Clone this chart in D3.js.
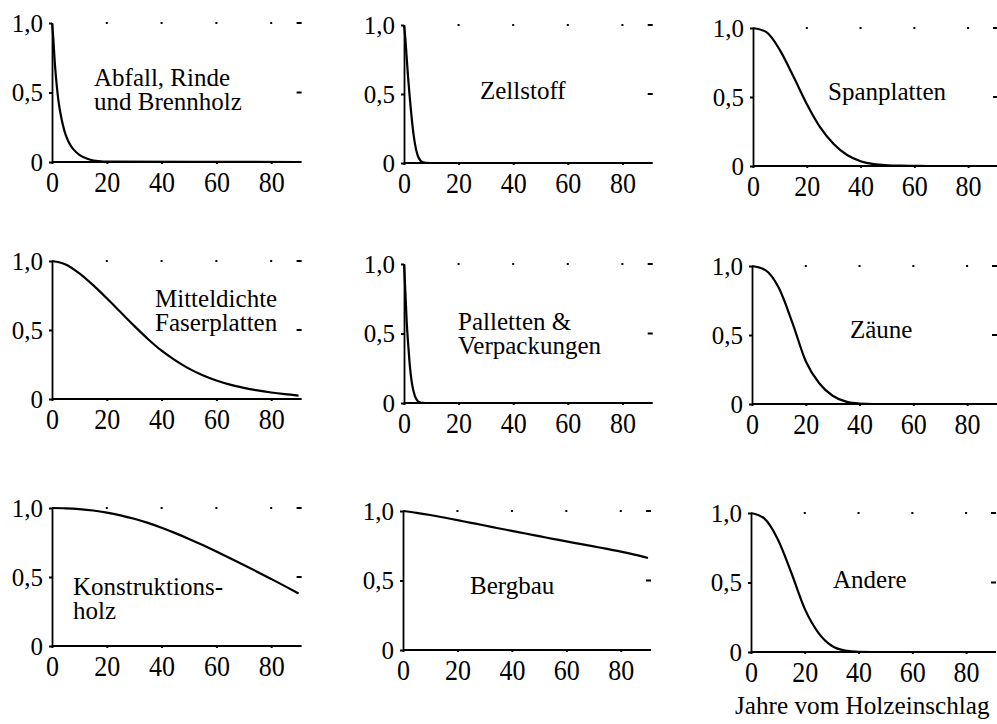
<!DOCTYPE html>
<html>
<head>
<meta charset="utf-8">
<script src="https://cdn.jsdelivr.net/npm/d3@7"></script>
<style>
  html, body { margin: 0; padding: 0; background: #fff; }
  svg { display: block; }
  text { font-family: "Liberation Serif", "DejaVu Serif", serif !important; fill: #000; }
</style>
</head>
<body>
<svg id="chart" width="997" height="724"></svg>
<script>
// ---------- data ----------
const categories = [
  ["Abfall, Rinde", "und Brennholz"],
  ["Zellstoff"],
  ["Spanplatten"],
  ["Mitteldichte", "Faserplatten"],
  ["Palletten &", "Verpackungen"],
  ["Zäune"],
  ["Konstruktions-", "holz"],
  ["Bergbau"],
  ["Andere"]
];
const xTicks = [0, 20, 40, 60, 80];
const yTicks = [0, 0.5, 1.0];
const yTickLabels = ["0", "0,5", "1,0"];
const xAxisTitle = "Jahre vom Holzeinschlag";

// sampling years for fast-decaying curves
const yearsFast = [0, 0.5, 1, 1.5, 2, 2.5, 3, 4, 5, 6, 7, 8, 10, 12, 14, 17, 20, 90];
// sampling years for slowly decaying curves
const years5 = [0, 5, 10, 15, 20, 25, 30, 35, 40, 45, 50, 55, 60, 65, 70, 75, 80, 85, 90];

const abfallValues     = [1, 0.88, 0.72, 0.6, 0.5, 0.42, 0.36, 0.265, 0.195, 0.148, 0.113, 0.087, 0.052, 0.03, 0.016, 0.006, 0.002, 0];
const zellstoffValues  = [1, 0.9, 0.76, 0.62, 0.5, 0.39, 0.29, 0.14, 0.055, 0.018, 0.005, 0.001, 0, 0, 0, 0, 0, 0];
const palettenValues   = [1, 0.8, 0.58, 0.43, 0.3, 0.2, 0.13, 0.05, 0.015, 0.004, 0.001, 0, 0, 0, 0, 0, 0, 0];

const spanplattenValues = [1, 0.97, 0.84, 0.65, 0.45, 0.28, 0.16, 0.08, 0.035, 0.013, 0.005, 0.002, 0.001, 0, 0, 0, 0, 0, 0];
const mdfValues         = [1, 0.975, 0.91, 0.825, 0.73, 0.63, 0.53, 0.435, 0.35, 0.28, 0.22, 0.172, 0.134, 0.104, 0.081, 0.062, 0.047, 0.035, 0.025];
const zaeuneValues      = [1, 0.97, 0.84, 0.59, 0.31, 0.15, 0.06, 0.017, 0.003, 0, 0, 0, 0, 0, 0, 0, 0, 0, 0];
const konstruktionValues = [1, 0.998, 0.992, 0.982, 0.967, 0.947, 0.922, 0.892, 0.857, 0.818, 0.776, 0.731, 0.684, 0.636, 0.587, 0.537, 0.486, 0.434, 0.38];
const bergbauValues     = [1, 0.987, 0.971, 0.953, 0.934, 0.915, 0.896, 0.876, 0.857, 0.838, 0.819, 0.8, 0.781, 0.763, 0.745, 0.727, 0.708, 0.686, 0.662];
const andereValues      = [1, 0.96, 0.81, 0.57, 0.31, 0.14, 0.045, 0.01, 0.001, 0, 0, 0, 0, 0, 0, 0, 0, 0, 0];

const seriesYears  = [yearsFast, yearsFast, years5, years5, yearsFast, years5, years5, years5, years5];
const seriesValues = [abfallValues, zellstoffValues, spanplattenValues, mdfValues, palettenValues, zaeuneValues, konstruktionValues, bergbauValues, andereValues];

// ---------- layout ----------
const panels = [
  {x0: 52,  x90: 298.6, top: 23,  bottom: 162, tx: 94,  ty: 86},
  {x0: 404, x90: 649.7, top: 25,  bottom: 163, tx: 480, ty: 99},
  {x0: 753, x90: 995,   top: 28,  bottom: 166, tx: 828, ty: 100},
  {x0: 52,  x90: 298.6, top: 261, bottom: 399, tx: 155, ty: 307},
  {x0: 404, x90: 649.7, top: 264, bottom: 403, tx: 458, ty: 330},
  {x0: 752, x90: 994,   top: 266, bottom: 404, tx: 850, ty: 338},
  {x0: 52,  x90: 298.6, top: 508, bottom: 646, tx: 73,  ty: 595},
  {x0: 403, x90: 648,   top: 511, bottom: 650, tx: 470, ty: 594},
  {x0: 751, x90: 993,   top: 513, bottom: 652, tx: 833, ty: 588}
];

const svg = d3.select("#chart");

panels.forEach((p, i) => {
  const g = svg.append("g");
  const x = d3.scaleLinear().domain([0, 90]).range([p.x0, p.x90]);
  const y = d3.scaleLinear().domain([0, 1]).range([p.bottom, p.top]);

  // x axis
  const xa = g.append("g")
    .attr("transform", `translate(0,${p.bottom})`)
    .call(d3.axisBottom(x).tickValues(xTicks).tickSize(2).tickSizeOuter(0).tickPadding(8).tickFormat(d3.format("d")));
  xa.attr("font-family", null);
  xa.select(".domain").attr("stroke", "#000").attr("stroke-width", 1.8)
    .attr("d", `M${p.x0},0H${p.x90 + 3}`);
  xa.selectAll(".tick line").attr("stroke", "#000").attr("stroke-width", 2);
  xa.selectAll(".tick text")
    .attr("font-size", 26)
    .attr("y", null).attr("dy", null)
    .attr("transform", "translate(0,30) scale(1,1.15)");

  // y axis
  const ya = g.append("g")
    .attr("transform", `translate(${p.x0},0)`)
    .call(d3.axisLeft(y).tickValues(yTicks).tickSize(3).tickSizeOuter(0).tickPadding(6)
      .tickFormat(d => yTickLabels[yTicks.indexOf(d)]));
  ya.attr("font-family", null);
  ya.select(".domain").attr("stroke", "#000").attr("stroke-width", 1.8);
  ya.selectAll(".tick line").attr("stroke", "#000").attr("stroke-width", 2);
  ya.selectAll(".tick text").attr("font-size", 25);

  // top reference dots
  g.selectAll("rect.dot").data(xTicks.slice(1)).enter().append("rect")
    .attr("x", d => x(d) - 1).attr("y", y(1) - 1).attr("width", 2).attr("height", 2).attr("fill", "#000");
  // right-edge dashes
  g.selectAll("rect.dash").data([1, 0.5]).enter().append("rect")
    .attr("x", x(90) - 2).attr("y", d => y(d) - 1).attr("width", 5).attr("height", 2).attr("fill", "#000");

  // curve
  const pts = seriesYears[i].map((t, k) => [t, seriesValues[i][k]]);
  g.append("path")
    .datum(pts)
    .attr("fill", "none")
    .attr("stroke", "#000")
    .attr("stroke-width", 2.2)
    .attr("d", d3.line().x(d => x(d[0])).y(d => y(d[1])).curve(d3.curveMonotoneX));

  // title
  const t = g.append("text").attr("font-size", 25);
  categories[i].forEach((line, k) => {
    t.append("tspan").attr("x", p.tx).attr("y", p.ty + k * 24).text(line);
  });
});

svg.append("text")
  .attr("x", 735).attr("y", 714)
  .attr("font-size", 25.2)
  .text(xAxisTitle);
</script>
</body>
</html>
